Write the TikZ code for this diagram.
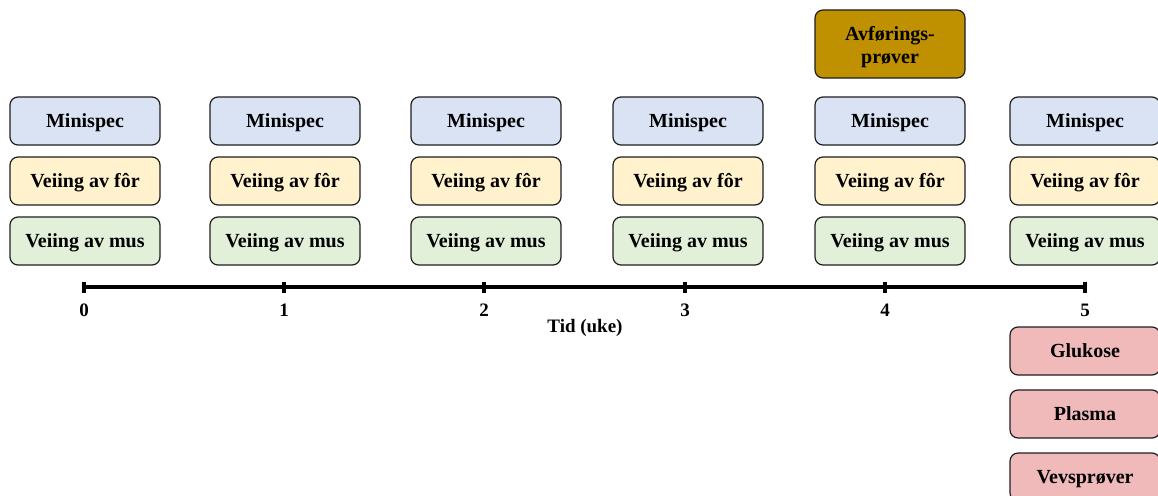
\documentclass[tikz,border=0pt]{standalone}
\usepackage{fontspec}
\setmainfont{Liberation Serif}
\definecolor{cblue}{HTML}{DAE3F3}
\definecolor{cyellow}{HTML}{FFF2CC}
\definecolor{cgreen}{HTML}{E2F0D9}
\definecolor{cgold}{HTML}{BF9000}
\definecolor{cpink}{HTML}{F0BABA}
\definecolor{cedge}{HTML}{1E1E1E}
\begin{document}
\begin{tikzpicture}[x=1pt,y=1pt,
  box/.style={draw=cedge,line width=1.2pt,rounded corners=8pt,minimum width=150pt,minimum height=48pt,inner sep=2pt,text height=13pt,text depth=1pt,font=\fontsize{20}{22}\selectfont\bfseries,align=center},
  mini/.style={box,fill=cblue},
  fodder/.style={box,fill=cyellow},
  mouse/.style={box,fill=cgreen},
  sample/.style={box,fill=cpink},
  ticklab/.style={text height=12pt,text depth=0pt,font=\fontsize{19}{21}\selectfont\bfseries}]
\useasboundingbox (0,0) rectangle (1158,-495);
% columns
\foreach \i/\cx/\tx in {0/85/84,1/285/284,2/486/484,3/688/685,4/890/885,5/1085/1085}{
  \node[mini] (m\i) at (\cx,-121) {Minispec};
  \node[fodder] (f\i) at (\cx,-181) {Veiing av fôr};
  \node[mouse] (v\i) at (\cx,-241) {Veiing av mus};
  \coordinate (t\i) at (\tx,-287);
  \node[ticklab] (l\i) at (\tx,-310) {\i};
}
\node[box,fill=cgold,minimum height=68pt,text width=140pt,text height=13pt,text depth=19pt,font=\fontsize{20}{23}\selectfont\bfseries] (avf) at (890,-44) {Avførings-\\prøver};
% timeline
\draw[line width=4pt] (t0) -- (t5);
\foreach \i in {0,...,5}{
  \draw[line width=4pt] ([yshift=5.5pt]t\i) -- ([yshift=-5.5pt]t\i);
}
\node[ticklab] (tid) at (585,-326) {Tid (uke)};
% samples
\node[sample] (glu) at (1085,-351) {Glukose};
\node[sample] (pla) at (1085,-414) {Plasma};
\node[sample] (vev) at (1085,-477) {Vevsprøver};
\end{tikzpicture}
\end{document}
